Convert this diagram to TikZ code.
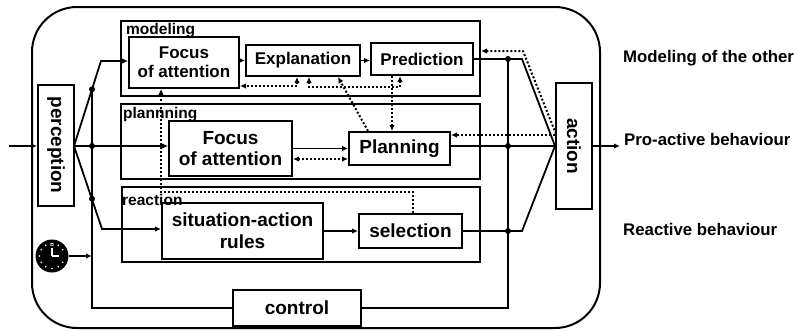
\documentclass[tikz,border=0pt]{standalone}
\usepackage{graphicx}
\usepackage{fontspec}
\setmainfont{Liberation Sans}
\usetikzlibrary{arrows.meta}
\begin{document}
\begin{tikzpicture}[x=1pt,y=-1pt,
 box/.style={draw, line width=2pt, inner sep=0pt, align=center, font=\bfseries\fontsize{19}{21}\selectfont},
 sbox/.style={box, font=\bfseries\fontsize{17}{19}\selectfont},
 area/.style={draw, line width=2pt, inner sep=0pt},
 lbl/.style={font=\bfseries\fontsize{15.5}{17}\selectfont, inner sep=0pt, anchor=base west},
 rlbl/.style={font=\bfseries\fontsize{16.8}{18}\selectfont, inner sep=0pt, anchor=base west},
 conn/.style={line width=1.8pt},
 arr/.style={conn, -{Latex[length=6pt,width=5.5pt]}},
 dotl/.style={line width=2pt, dash pattern=on 2pt off 2pt},
 darr/.style={dotl, -{Latex[length=6pt,width=5.5pt]}},
 ddarr/.style={dotl, {Latex[length=6pt,width=5.5pt]}-{Latex[length=6pt,width=5.5pt]}},
 jdot/.style={circle, fill, inner sep=0pt, minimum size=6pt}
]
\useasboundingbox (0,0) rectangle (798,330);
% outer frame
\node[area, rounded corners=45pt, minimum width=568pt, minimum height=321pt] (outer) at (316,167.5) {};
% areas
\node[area, minimum width=359pt, minimum height=75pt] (modA) at (300.5,58.5) {};
\node[area, minimum width=359pt, minimum height=75pt] (planA) at (300.5,141.5) {};
\node[area, minimum width=358pt, minimum height=75pt] (reacA) at (301,224.5) {};
\node[lbl] (modL) at (126,34) {modeling};
\node[lbl] (planL) at (123,118) {plannning};
\node[lbl] (reacL) at (122,205) {reaction};
% boxes
\node[sbox, minimum width=110pt, minimum height=51pt] (fm) at (184,62.5) {Focus\\of attention};
\node[sbox, minimum width=114pt, minimum height=31pt] (expl) at (303,60.5) {Explanation};
\node[sbox, minimum width=102pt, minimum height=32pt] (pred) at (422,59) {Prediction};
\node[box, minimum width=123pt, minimum height=55pt] (fp) at (230.5,148.5) {Focus\\of attention};
\node[box, minimum width=101pt, minimum height=33pt] (plan) at (399.5,148.5) {Planning};
\node[box, minimum width=161pt, minimum height=56pt, font=\bfseries\fontsize{19}{22}\selectfont] (sar) at (242.5,231) {situation-action\\rules};
\node[box, minimum width=103pt, minimum height=34pt] (sel) at (410.5,231) {selection};
\node[box, minimum width=128pt, minimum height=36pt] (ctrl) at (297,308) {control};
\node[box, minimum width=36pt, minimum height=121pt] (perc) at (56,145) {\rotatebox{-90}{perception}};
\node[box, minimum width=36pt, minimum height=126pt] (act) at (574,146) {\rotatebox{-90}{action}};
% clock
\node[circle, fill=black, inner sep=0pt, minimum size=33pt] (clock) at (52,256) {};
\foreach \a in {30,60,...,330} \fill[white] (clock.center) ++(\a:12.5) circle (0.9);
\node[white, font=\bfseries\fontsize{4}{4}\selectfont, inner sep=0pt] (c12) at (52,245) {12};
\draw[white, line width=1.6pt] (clock.center) -- ++(0,-8.5);
\draw[white, line width=1.6pt] (clock.center) -- ++(7,0);
% right labels
\node[rlbl] (l1) at (623,62) {Modeling of the other};
\node[rlbl] (l2) at (624,145) {Pro-active behaviour};
\node[rlbl] (l3) at (623,235) {Reactive behaviour};
% coordinates
\coordinate (in) at (9,146);
\coordinate (pout) at (74,146);
\coordinate (b1) at (101,61);
\coordinate (b2) at (102,229);
\coordinate (j1) at (92,89.3);
\coordinate (j2) at (92,146);
\coordinate (j3) at (92,198.7);
\coordinate (jb) at (92,308);
\coordinate (c1) at (522,59);
\coordinate (c3) at (522,231);
\coordinate (r1) at (508,59);
\coordinate (r2) at (508,146);
\coordinate (r3) at (508,231);
\coordinate (rb) at (508,308);
\coordinate (out) at (620,146);
\coordinate (d5) at (300,159);
\coordinate (d6) at (500,135);
\coordinate (e1) at (523,51);
\coordinate (a1) at (297,86);
\coordinate (bb1) at (309,87);
\coordinate (bb2) at (400,87);
\coordinate (cc) at (392,100);
\coordinate (dd1) at (368,100);
\coordinate (dd2) at (338,100);
\coordinate (e2) at (413,192);
\coordinate (e3) at (161,192);
\coordinate (act134) at (556,134);
% solid connectors
\draw[arr] (in) -- (in -| perc.west);
\draw[arr] (pout) -- (b1) -- (b1 -| fm.west);
\draw[arr] (pout) -- (pout -| fp.west);
\draw[arr] (pout) -- (b2) -- (b2 -| sar.west);
\draw[conn] (j1) -- (jb) -- (ctrl.west);
\draw[arr] (clock.east) -- (clock.east -| j1);
\draw[arr] (fm.east |- expl.west) -- (expl.west);
\draw[arr] (expl.east) -- (expl.east -| pred.west);
\draw[arr] (sar.east) -- (sel.west);
\draw[conn] (pred.east) -- (c1) -- (act.west);
\draw[conn] (plan.east |- act.west) -- (act.west);
\draw[conn] (sel.east) -- (c3) -- (act.west);
\draw[conn] (r1) -- (rb) -- (ctrl.east);
\draw[arr] (act.east) -- (out);
\draw[arr] (fp.east |- plan.west) -- (plan.west);
% junction dots
\foreach \p in {j1,j2,j3,r1,r2,r3} \node[jdot] at (\p) {};
% dotted connectors
\draw[ddarr] (d5 -| fp.east) -- (d5 -| plan.west);
\draw[darr] (d6 -| act.west) -- (d6 -| plan.east);
\draw[darr] (act134) -- (e1) -- (e1 -| modA.east);
\draw[ddarr] (a1 |- expl.south) -- (a1) -- (a1 -| fm.east);
\draw[ddarr] (bb1 |- expl.south) -- (bb1) -- (bb2) -- (bb2 |- pred.south);
\draw[darr] (cc |- pred.south) -- (cc |- plan.north);
\draw[darr] (dd1 |- plan.north) -- (dd2 |- expl.south);
\draw[darr] (e2 |- sel.north) -- (e2) -- (e3) -- (e3 |- fm.south);
\end{tikzpicture}
\end{document}
